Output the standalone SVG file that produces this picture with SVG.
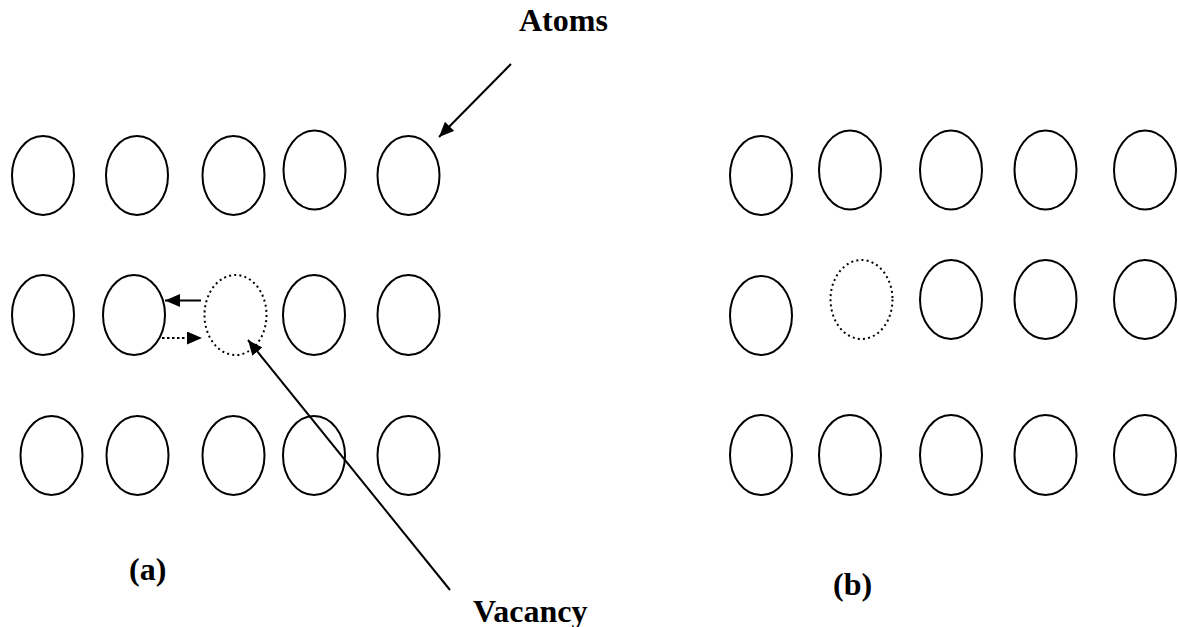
<svg xmlns="http://www.w3.org/2000/svg" width="1178" height="627" viewBox="0 0 1178 627">
<defs>
<style>
.atom{fill:none;stroke:#000;stroke-width:2}
.vac{fill:none;stroke:#000;stroke-width:2;stroke-dasharray:2 3.2}
.ln{fill:none;stroke:#000;stroke-width:2}
.dln{fill:none;stroke:#000;stroke-width:2.2;stroke-dasharray:2.5 2.5}
.lbl{font-family:"Liberation Serif","Times New Roman",serif;font-weight:bold;font-size:32px;fill:#000}
</style>
<marker id="ahs" viewBox="0 0 10 10" refX="10" refY="5" markerWidth="15" markerHeight="13" markerUnits="userSpaceOnUse" orient="auto" preserveAspectRatio="none">
<path d="M0,0 L10,5 L0,10 z" fill="#000"/>
</marker>
</defs>
<rect width="1178" height="627" fill="#fff"/>
<g id="panel-a">
<g id="a-r1c1"><ellipse class="atom" cx="43" cy="175.5" rx="31" ry="39.5"/></g>
<g id="a-r1c2"><ellipse class="atom" cx="137" cy="175.5" rx="31" ry="39.5"/></g>
<g id="a-r1c3"><ellipse class="atom" cx="233.5" cy="175.5" rx="31" ry="39.5"/></g>
<g id="a-r1c4"><ellipse class="atom" cx="314.5" cy="170" rx="31" ry="39.5"/></g>
<g id="a-r1c5"><ellipse class="atom" cx="408.5" cy="175.5" rx="31" ry="39.5"/></g>
<g id="a-r2c1"><ellipse class="atom" cx="43" cy="315" rx="31" ry="40"/></g>
<g id="a-r2c2"><ellipse class="atom" cx="134" cy="315" rx="31" ry="40"/></g>
<g id="a-vacancy"><ellipse class="vac" cx="235.5" cy="315" rx="31" ry="40"/></g>
<g id="a-r2c4"><ellipse class="atom" cx="314" cy="315" rx="31" ry="40"/></g>
<g id="a-r2c5"><ellipse class="atom" cx="408.5" cy="315" rx="31" ry="40"/></g>
<g id="a-r3c1"><ellipse class="atom" cx="51.5" cy="455.5" rx="31" ry="39.5"/></g>
<g id="a-r3c2"><ellipse class="atom" cx="137.5" cy="455.5" rx="31" ry="39.5"/></g>
<g id="a-r3c3"><ellipse class="atom" cx="233.5" cy="455.5" rx="31" ry="39.5"/></g>
<g id="a-r3c4"><ellipse class="atom" cx="314" cy="455.5" rx="31" ry="39.5"/></g>
<g id="a-r3c5"><ellipse class="atom" cx="408.5" cy="455.5" rx="31" ry="39.5"/></g>
</g>
<g id="panel-b">
<g id="b-r1c1"><ellipse class="atom" cx="761" cy="175.5" rx="31" ry="39.5"/></g>
<g id="b-r1c2"><ellipse class="atom" cx="850" cy="170" rx="31" ry="39.5"/></g>
<g id="b-r1c3"><ellipse class="atom" cx="951" cy="170" rx="31" ry="39.5"/></g>
<g id="b-r1c4"><ellipse class="atom" cx="1045.5" cy="170" rx="31" ry="39.5"/></g>
<g id="b-r1c5"><ellipse class="atom" cx="1145" cy="170" rx="31" ry="39.5"/></g>
<g id="b-r2c1"><ellipse class="atom" cx="761" cy="315.5" rx="31" ry="39.5"/></g>
<g id="b-vacancy"><ellipse class="vac" cx="861.5" cy="299.5" rx="31" ry="39.5"/></g>
<g id="b-r2c3"><ellipse class="atom" cx="951" cy="299.5" rx="31" ry="39.5"/></g>
<g id="b-r2c4"><ellipse class="atom" cx="1045.5" cy="299.5" rx="31" ry="39.5"/></g>
<g id="b-r2c5"><ellipse class="atom" cx="1145" cy="299.5" rx="31" ry="39.5"/></g>
<g id="b-r3c1"><ellipse class="atom" cx="761" cy="455" rx="31" ry="40"/></g>
<g id="b-r3c2"><ellipse class="atom" cx="850" cy="455" rx="31" ry="40"/></g>
<g id="b-r3c3"><ellipse class="atom" cx="951" cy="455" rx="31" ry="40"/></g>
<g id="b-r3c4"><ellipse class="atom" cx="1045.5" cy="455" rx="31" ry="40"/></g>
<g id="b-r3c5"><ellipse class="atom" cx="1145" cy="455" rx="31" ry="40"/></g>
</g>
<g id="connectors">
<line class="ln" x1="511" y1="64" x2="439" y2="137" marker-end="url(#ahs)"/>
<line class="ln" x1="450" y1="590" x2="248" y2="340" marker-end="url(#ahs)"/>
<line class="ln" x1="201" y1="300.5" x2="165" y2="300.5" marker-end="url(#ahs)"/>
<line class="dln" x1="162" y1="338" x2="202" y2="338" marker-end="url(#ahs)"/>
</g>
<g id="labels">
<text class="lbl" x="129" y="580">(a)</text>
<text class="lbl" x="833" y="595">(b)</text>
<text class="lbl" x="473" y="622">Vacancy</text>
<text class="lbl" x="519" y="31">Atoms</text>
</g>
</svg>
